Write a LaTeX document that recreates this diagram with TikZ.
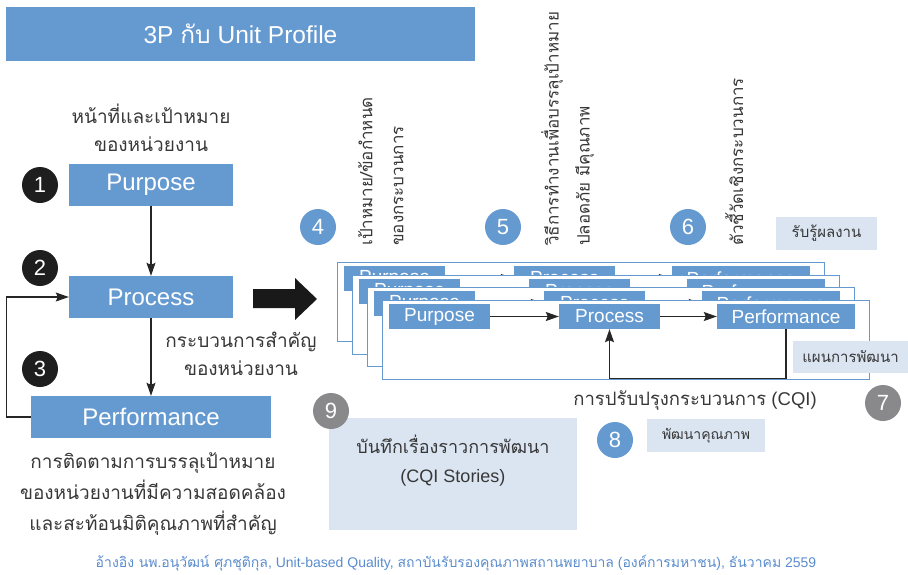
\documentclass[tikz,border=0pt]{standalone}
\usepackage{fontspec}
\setmainfont{Liberation Sans}
\newfontfamily\thai[Script=Thai]{Loma}
\usetikzlibrary{arrows.meta}
\definecolor{boxblue}{RGB}{101,154,209}
\definecolor{paleblue}{RGB}{219,229,242}
\definecolor{dotgray}{RGB}{137,137,140}
\definecolor{dotblack}{RGB}{30,30,30}
\definecolor{textgray}{RGB}{55,55,55}
\definecolor{refblue}{RGB}{90,140,205}

\begin{document}
\begin{tikzpicture}[x=1pt, y=-1pt,
        big/.style = {fill=boxblue, text=white, minimum height=42pt, inner sep=0pt, font=\fontsize{24}{28}\selectfont},
        small/.style = {fill=boxblue, text=white, minimum height=25pt, inner sep=0pt, font=\fontsize{19}{21}\selectfont},
        num/.style = {circle, fill=#1, text=white, minimum size=36pt, inner sep=0pt, font=\fontsize{22}{24}\selectfont},
        note/.style = {fill=paleblue, text=textgray, inner sep=0pt},
        thtext/.style = {text=textgray, align=center, font=\thai\fontsize{19}{28}\selectfont},
        rot/.style = {rotate=90, anchor=north west, align=left, inner sep=0pt, text=textgray, font=\thai\fontsize{17}{31}\selectfont},
        frame/.style = {draw=boxblue, line width=1pt, fill=white, minimum width=487pt, minimum height=79pt, inner sep=0pt},
        arr/.style = {-{Stealth[length=13pt,width=9pt,inset=2pt]}, line width=1.1pt, draw=black!85}]
    \useasboundingbox (0,0) rectangle (908,574);

    % title
    \node[fill=boxblue, text=white, minimum width=469pt, minimum height=54pt, inner sep=0pt, font=\fontsize{24.5}{28}\selectfont] (title) at (240.5,34) {3P {\thai กับ} Unit Profile};

    % left column
    \node[thtext] (duty) at (151,128) {หน้าที่และเป้าหมาย\\ของหน่วยงาน};
    \node[big, minimum width=164pt] (pur) at (151,184.5) {Purpose};
    \node[big, minimum width=164pt] (pro) at (151,297) {Process};
    \node[big, minimum width=240pt] (per) at (151,417) {Performance};
    \node[num=dotblack] (n1) at (40,185) {1};
    \node[num=dotblack] (n2) at (40,268) {2};
    \node[num=dotblack] (n3) at (40,369) {3};
    \draw[arr] (pur) -- (pro);
    \draw[arr] (pro) -- (per);
    \draw[arr] (per.west) -- ++(-24,0) |- (pro.west);
    \node[thtext] (core) at (241,354) {กระบวนการสำคัญ\\ของหน่วยงาน};
    \node[thtext, font=\thai\fontsize{19}{31}\selectfont] (track) at (153,494) {การติดตามการบรรลุเป้าหมาย\\ของหน่วยงานที่มีความสอดคล้อง\\และสะท้อนมิติคุณภาพที่สำคัญ};

    % big arrow
    \fill[black!90] (253,289) -- (295,289) -- (295,278) -- (317,299) -- (295,320) -- (295,308) -- (253,308) -- cycle;

    % stacked unit frames, back to front
    \foreach \i/\dx/\dy in {1/-45/-38, 2/-30/-25, 3/-15/-13, 4/0/0}{
        \begin{scope}[shift={(\dx,\dy)}]
            \node[frame] (fr\i) at (625.5,339.5) {};
            \node[small, minimum width=101pt] (pur\i) at (439.5,316.5) {Purpose};
            \node[small, minimum width=101pt] (pro\i) at (609.5,316.5) {Process};
            \node[small, minimum width=138pt] (per\i) at (786,316.5) {Performance};
            \draw[arr] (pur\i) -- (pro\i);
            \draw[arr] (pro\i) -- (per\i);
            \draw[arr] (per\i.south) -- ++(0,49) -| (pro\i.south);
        \end{scope}
    }

    % column heads
    \node[num=boxblue] (n4) at (318,227) {4};
    \node[num=boxblue] (n5) at (503,227) {5};
    \node[num=boxblue] (n6) at (688,227) {6};
    \node[rot] (goal) at (358,246) {เป้าหมาย/ข้อกำหนด\\ของกระบวนการ};
    \node[rot] (way) at (541,246) {วิธีการทำงานเพื่อบรรลุเป้าหมาย\\ปลอดภัย มีคุณภาพ};
    \node[rot] (kpi) at (725,246) {ตัวชี้วัดเชิงกระบวนการ};
    \node[note, minimum width=101pt, minimum height=33pt, font=\thai\fontsize{15}{18}\selectfont] (aware) at (826.5,233.5) {รับรู้ผลงาน};

    % improvement
    \node[note, minimum width=115pt, minimum height=32pt, font=\thai\fontsize{15}{18}\selectfont] (plan) at (850.5,357) {แผนการพัฒนา};
    \node[num=dotgray] (n7) at (883,403) {7};
    \node[text=textgray, font=\fontsize{18.5}{22}\selectfont] (cqi) at (695,401) {{\thai การปรับปรุงกระบวนการ} (CQI)};
    \node[note, minimum width=118pt, minimum height=33pt, font=\thai\fontsize{14}{17}\selectfont] (qual) at (706,435.5) {พัฒนาคุณภาพ};
    \node[num=boxblue] (n8) at (615,440) {8};
    \node[note, minimum width=248pt, minimum height=112pt] (story) at (453,474) {};
    \node[num=dotgray] (n9) at (331,411) {9};
    \node[text=textgray, align=center, font=\fontsize{18}{29}\selectfont] (storytxt) at (453,461) {{\thai บันทึกเรื่องราวการพัฒนา}\\(CQI Stories)};

    % reference
    \node[text=refblue, font=\fontsize{14}{16}\selectfont] (ref) at (456,563) {{\thai อ้างอิง นพ.อนุวัฒน์ ศุภชุติกุล}, Unit-based Quality, {\thai สถาบันรับรองคุณภาพสถานพยาบาล} ({\thai องค์การมหาชน}), {\thai ธันวาคม} 2559};
\end{tikzpicture}
\end{document}
